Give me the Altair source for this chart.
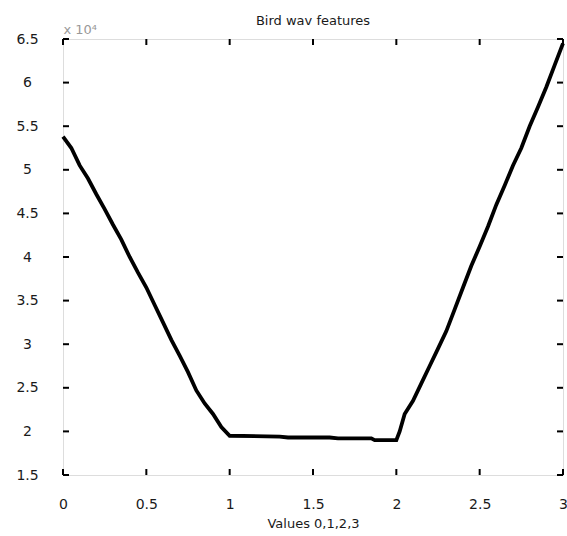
import altair as alt
import pandas as pd

# data (units of 10^4)
xs = [0.0, 0.05, 0.1, 0.15, 0.2, 0.25, 0.3, 0.35, 0.4, 0.45, 0.5, 0.55, 0.6, 0.65, 0.7, 0.75,
      0.8, 0.85, 0.9, 0.95, 1.0,
      1.3, 1.35, 1.6, 1.65, 1.85, 1.87, 2.0,
      2.02, 2.05, 2.1, 2.15, 2.2, 2.25, 2.3, 2.35, 2.4, 2.45, 2.5, 2.55, 2.6, 2.65, 2.7, 2.75,
      2.8, 2.85, 2.9, 2.95, 3.0]
ys = [5.38, 5.25, 5.05, 4.9, 4.72, 4.55, 4.37, 4.2, 4.0, 3.82, 3.65, 3.45, 3.25, 3.05, 2.87, 2.68,
      2.47, 2.32, 2.2, 2.05, 1.95,
      1.94, 1.93, 1.93, 1.92, 1.92, 1.9, 1.9,
      2.0, 2.2, 2.35, 2.55, 2.75, 2.95, 3.15, 3.4, 3.65, 3.9, 4.12, 4.35, 4.6, 4.82, 5.05, 5.25,
      5.5, 5.72, 5.95, 6.2, 6.45]
x_ticks = [0, 0.5, 1, 1.5, 2, 2.5, 3]
y_ticks = [1.5, 2, 2.5, 3, 3.5, 4, 4.5, 5, 5.5, 6, 6.5]

W, H = 500, 436
FONT = "DejaVu Sans"

df = pd.DataFrame({"x": xs, "y": ys})
xt = pd.DataFrame({"v": x_ticks})
yt = pd.DataFrame({"v": y_ticks})

xscale = alt.Scale(domain=[0, 3], nice=False, zero=False)
yscale = alt.Scale(domain=[1.5, 6.5], nice=False, zero=False)

line = alt.Chart(df).mark_line(color="black", strokeWidth=3.8).encode(
    x=alt.X("x:Q", scale=xscale,
            axis=alt.Axis(values=x_ticks, title="Values 0,1,2,3", domain=False, ticks=False,
                          grid=False, labelFontSize=14, labelFont=FONT, labelColor="#1a1a1a",
                          labelPadding=22, titleFontSize=13, titleFont=FONT,
                          titleFontWeight="normal", titleColor="#1a1a1a", titlePadding=6,
                          labelFlush=False, format="~g")),
    y=alt.Y("y:Q", scale=yscale,
            axis=alt.Axis(values=y_ticks, title="x 10⁴", domain=False, ticks=False, grid=False,
                          labelFontSize=14, labelFont=FONT, labelColor="#1a1a1a",
                          labelAlign="center", labelPadding=36, format="~g",
                          titleAngle=0, titleX=0, titleY=-3, titleAlign="left",
                          titleBaseline="bottom", titleFontSize=13, titleColor="#999999",
                          titleFontWeight="normal", titleFont=FONT)),
)

ytl = alt.Chart(yt).mark_rule(color="black", strokeWidth=2).encode(
    y=alt.Y("v:Q", scale=yscale), x=alt.value(0), x2=alt.value(6))
ytr = alt.Chart(yt).mark_rule(color="black", strokeWidth=2).encode(
    y=alt.Y("v:Q", scale=yscale), x=alt.value(W - 6), x2=alt.value(W))
xtb = alt.Chart(xt).mark_rule(color="black", strokeWidth=2).encode(
    x=alt.X("v:Q", scale=xscale), y=alt.value(H - 6), y2=alt.value(H))
xtt = alt.Chart(xt).mark_rule(color="black", strokeWidth=2).encode(
    x=alt.X("v:Q", scale=xscale), y=alt.value(0), y2=alt.value(6))

chart = alt.layer(ytl, ytr, xtb, xtt, line).properties(
    width=W, height=H,
    title=alt.TitleParams("Bird wav features", fontSize=13, font=FONT, fontWeight="normal",
                          color="#1a1a1a", offset=-5, anchor="middle"),
    autosize=alt.AutoSizeParams(type="none"),
    padding={"left": 63, "top": 39, "right": 4, "bottom": 61},
).configure_view(stroke="black", strokeWidth=1.5).configure(background="white")

chart.save("out.html", embed_options={"renderer": "svg", "actions": False})
